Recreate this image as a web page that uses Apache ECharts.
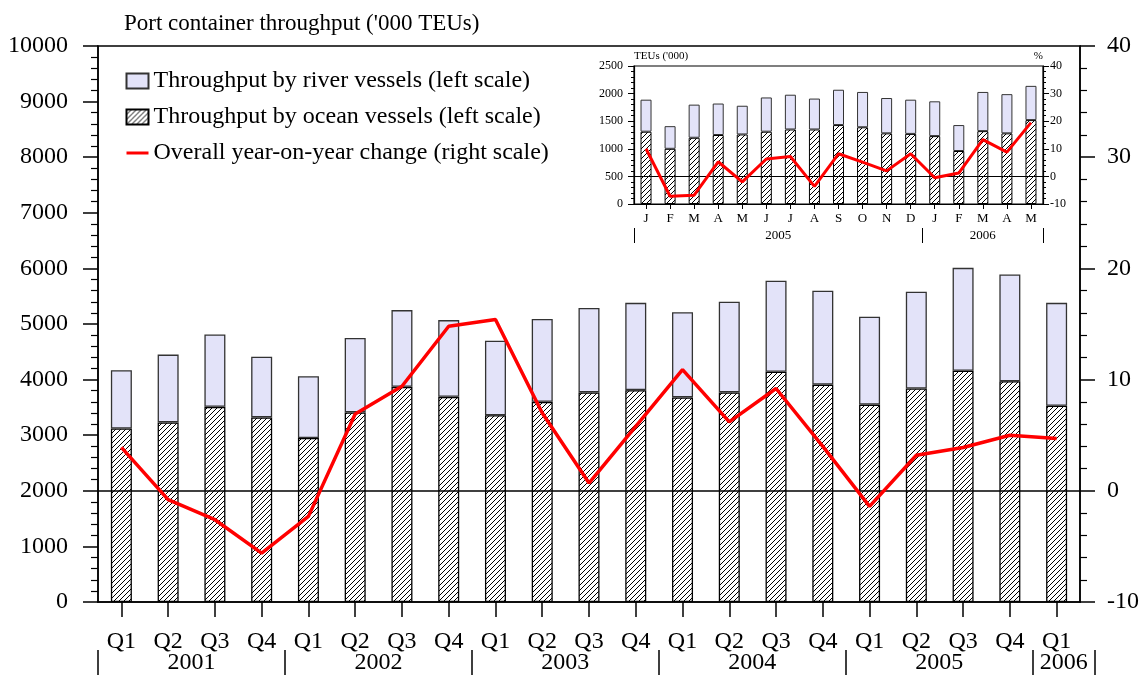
<!DOCTYPE html>
<html>
<head>
<meta charset="utf-8">
<script src="https://cdn.jsdelivr.net/npm/echarts@6/dist/echarts.min.js"></script>
<style>
  html, body { margin: 0; padding: 0; background: #fff; }
  #chart { width: 1142px; height: 675px; }
</style>
</head>
<body>
<div id="chart"></div>
<script>
// quarterly data, 2001 Q1 - 2006 Q1 ('000 TEUs)
var quarters = ['Q1', 'Q2', 'Q3', 'Q4', 'Q1', 'Q2', 'Q3', 'Q4', 'Q1', 'Q2', 'Q3', 'Q4',
  'Q1', 'Q2', 'Q3', 'Q4', 'Q1', 'Q2', 'Q3', 'Q4', 'Q1'];
var oceanQ = [3120, 3230, 3510, 3320, 2950, 3410, 3870, 3690, 3360, 3600, 3770, 3810,
  3680, 3770, 4140, 3910, 3550, 3840, 4160, 3970, 3530];
var riverQ = [1050, 1220, 1300, 1090, 1110, 1340, 1380, 1380, 1340, 1490, 1520, 1570,
  1530, 1630, 1640, 1690, 1580, 1740, 1850, 1920, 1850];
var yoyQ = [3.9, -0.8, -2.6, -5.6, -2.3, 6.9, 9.4, 14.8, 15.4, 7.0, 0.7, 5.8,
  10.9, 6.2, 9.2, 4.0, -1.4, 3.2, 3.9, 5.0, 4.7];
var years = ['2001', '2002', '2003', '2004', '2005', '2006'];

// monthly data, Jan 2005 - May 2006 (inset)
var months = ['J', 'F', 'M', 'A', 'M', 'J', 'J', 'A', 'S', 'O', 'N', 'D', 'J', 'F', 'M', 'A', 'M'];
var oceanM = [1310, 1000, 1200, 1250, 1260, 1310, 1350, 1350, 1430, 1390, 1280, 1270, 1230, 960, 1320, 1280, 1520];
var riverM = [580, 410, 600, 570, 520, 620, 630, 560, 640, 640, 640, 620, 630, 470, 710, 710, 620];
var yoyM = [10.0, -7.2, -6.8, 5.3, -2.0, 6.3, 7.2, -3.6, 8.2, 5.2, 2.0, 8.2, -0.5, 1.2, 13.3, 8.8, 19.5];
var insetYears = ['2005', '2006'];

var FONT = 'Liberation Serif';
var RIVER = '#e3e3f9';
var NAME_RIVER = 'Throughput by river vessels (left scale)';
var NAME_OCEAN = 'Throughput by ocean vessels (left scale)';
var NAME_YOY = 'Overall year-on-year change (right scale)';

// hatch pattern for ocean vessels
function hatch(size) {
  var c = document.createElement('canvas');
  c.width = size; c.height = size;
  var g = c.getContext('2d');
  g.fillStyle = '#fff';
  g.fillRect(0, 0, size, size);
  g.strokeStyle = '#000';
  g.lineWidth = 1;
  g.beginPath();
  g.moveTo(0, size); g.lineTo(size, 0);
  g.moveTo(-1, 1); g.lineTo(1, -1);
  g.moveTo(size - 1, size + 1); g.lineTo(size + 1, size - 1);
  g.stroke();
  return c;
}
var hatchFill = { image: hatch(5), repeat: 'repeat' };

// year axis slots: main one in thirds of a quarter (0..64), inset in half months (0..34)
var yearSlots = [];
for (var i = 0; i <= 64; i++) yearSlots.push('s' + i);
var yearLabelAt = { 6: years[0], 18: years[1], 30: years[2], 42: years[3], 54: years[4], 62: years[5] };
var yearSepAt = { 0: 1, 12: 1, 24: 1, 36: 1, 48: 1, 60: 1, 64: 1 };
var insetSlots = [];
for (var j = 0; j <= 34; j++) insetSlots.push('m' + j);
var insetLabelAt = { 12: insetYears[0], 29: insetYears[1] };
var insetSepAt = { 0: 1, 24: 1, 34: 1 };

var black = { color: '#000', width: 1.5 };
var plain = function (v) { return String(v); };

var myChart = echarts.init(document.getElementById('chart'));
var option = {
  animation: false,
  textStyle: { fontFamily: FONT, color: '#000' },
  title: {
    text: "Port container throughput ('000 TEUs)",
    left: 119, top: 7,
    textStyle: { fontFamily: FONT, fontSize: 23, fontWeight: 'normal', color: '#000' }
  },
  legend: {
    orient: 'vertical',
    left: 120, top: 64,
    itemWidth: 22, itemHeight: 15, itemGap: 12,
    textStyle: { fontFamily: FONT, fontSize: 24, color: '#000' },
    data: [
      { name: NAME_RIVER, icon: 'rect' },
      { name: NAME_OCEAN, icon: 'rect' },
      { name: NAME_YOY, itemStyle: { opacity: 0 }, lineStyle: { width: 3, color: '#ff0000' } }
    ]
  },
  grid: [
    { left: 98, right: 62, top: 46, bottom: 73, show: true, borderColor: '#000', borderWidth: 1.5 },
    { left: 634, right: 99, top: 66, bottom: 471, show: true, borderColor: '#000', borderWidth: 1.2 },
    { left: 98, width: 997, top: 46, bottom: 25 },
    { left: 634, right: 99, top: 66, bottom: 447 }
  ],
  xAxis: [
    {
      gridIndex: 0, type: 'category', data: quarters,
      axisLine: { onZero: false, lineStyle: black },
      axisTick: { show: true, alignWithLabel: true, interval: 0, length: 15, lineStyle: black },
      axisLabel: { fontSize: 24, margin: 28, color: '#000', fontFamily: FONT, interval: 0 }
    },
    {
      gridIndex: 2, type: 'category', data: yearSlots, boundaryGap: false, position: 'bottom',
      axisLine: { show: false },
      axisTick: { show: true, length: 26, lineStyle: black, interval: function (idx) { return !!yearSepAt[idx]; } },
      axisLabel: {
        fontSize: 24, margin: 1, color: '#000', fontFamily: FONT,
        interval: function (idx) { return !!yearLabelAt[idx]; },
        formatter: function (v, idx) { return yearLabelAt[idx] || ''; }
      }
    },
    {
      gridIndex: 1, type: 'category', data: months,
      axisLine: { onZero: false, lineStyle: { color: '#000', width: 1.2 } },
      axisTick: { show: true, alignWithLabel: true, interval: 0, length: 5, lineStyle: { color: '#000', width: 1 } },
      axisLabel: { fontSize: 13, margin: 8, color: '#000', fontFamily: FONT, interval: 0 }
    },
    {
      gridIndex: 3, type: 'category', data: insetSlots, boundaryGap: false, position: 'bottom',
      axisLine: { show: false },
      axisTick: { show: true, length: 15, lineStyle: { color: '#000', width: 1 }, interval: function (idx) { return !!insetSepAt[idx]; } },
      axisLabel: {
        fontSize: 13, margin: 1, color: '#000', fontFamily: FONT,
        interval: function (idx) { return !!insetLabelAt[idx]; },
        formatter: function (v, idx) { return insetLabelAt[idx] || ''; }
      }
    }
  ],
  yAxis: [
    {
      gridIndex: 0, type: 'value', min: 0, max: 10000, interval: 1000, position: 'left',
      axisLine: { show: true, lineStyle: black },
      axisTick: { show: true, length: 15, lineStyle: black },
      minorTick: { show: true, splitNumber: 5, length: 7, lineStyle: { color: '#000', width: 1.2 } },
      splitLine: { show: false },
      axisLabel: { fontSize: 24, margin: 30, color: '#000', fontFamily: FONT, formatter: plain }
    },
    {
      gridIndex: 0, type: 'value', min: -10, max: 40, interval: 10, position: 'right',
      axisLine: { show: true, lineStyle: black },
      axisTick: { show: true, length: 15, lineStyle: black },
      minorTick: { show: true, splitNumber: 5, length: 7, lineStyle: { color: '#000', width: 1.2 } },
      splitLine: { show: false },
      axisLabel: { fontSize: 24, margin: 27, color: '#000', fontFamily: FONT, formatter: plain }
    },
    { gridIndex: 2, type: 'value', show: false },
    {
      gridIndex: 1, type: 'value', min: 0, max: 2500, interval: 500, position: 'left',
      name: "TEUs ('000)", nameLocation: 'end', nameGap: 4,
      nameTextStyle: { fontSize: 11, align: 'left', color: '#000', fontFamily: FONT },
      axisLine: { show: true, lineStyle: { color: '#000', width: 1.2 } },
      axisTick: { show: true, length: 6, lineStyle: { color: '#000', width: 1 } },
      minorTick: { show: true, splitNumber: 5, length: 3, lineStyle: { color: '#000', width: 1 } },
      splitLine: { show: false },
      axisLabel: { fontSize: 12, margin: 11, color: '#000', fontFamily: FONT, formatter: plain }
    },
    {
      gridIndex: 1, type: 'value', min: -10, max: 40, interval: 10, position: 'right',
      name: '%', nameLocation: 'end', nameGap: 4,
      nameTextStyle: { fontSize: 11, align: 'right', color: '#000', fontFamily: FONT },
      axisLine: { show: true, lineStyle: { color: '#000', width: 1.2 } },
      axisTick: { show: true, length: 6, lineStyle: { color: '#000', width: 1 } },
      minorTick: { show: true, splitNumber: 5, length: 3, lineStyle: { color: '#000', width: 1 } },
      splitLine: { show: false },
      axisLabel: { fontSize: 12, margin: 7, color: '#000', fontFamily: FONT, formatter: plain }
    },
    { gridIndex: 3, type: 'value', show: false }
  ],
  series: [
    {
      name: NAME_OCEAN, type: 'bar', stack: 'q',
      xAxisIndex: 0, yAxisIndex: 0, barWidth: 21, data: oceanQ,
      itemStyle: { color: hatchFill, borderColor: '#000', borderWidth: 1.3 }
    },
    {
      name: NAME_RIVER, type: 'bar', stack: 'q',
      xAxisIndex: 0, yAxisIndex: 0, barWidth: 21, data: riverQ,
      itemStyle: { color: RIVER, borderColor: '#333', borderWidth: 1.3 }
    },
    {
      name: NAME_YOY, type: 'line',
      xAxisIndex: 0, yAxisIndex: 1, data: yoyQ, symbol: 'none', z: 5,
      lineStyle: { color: '#ff0000', width: 3.5 }, itemStyle: { color: '#ff0000' },
      markLine: {
        silent: true, symbol: 'none', label: { show: false },
        lineStyle: { color: '#000', width: 1.5, type: 'solid' },
        data: [{ yAxis: 0 }]
      }
    },
    {
      name: 'ocean monthly', type: 'bar', stack: 'm',
      xAxisIndex: 2, yAxisIndex: 3, barWidth: 11, data: oceanM,
      itemStyle: { color: hatchFill, borderColor: '#000', borderWidth: 1 }
    },
    {
      name: 'river monthly', type: 'bar', stack: 'm',
      xAxisIndex: 2, yAxisIndex: 3, barWidth: 11, data: riverM,
      itemStyle: { color: RIVER, borderColor: '#333', borderWidth: 1 }
    },
    {
      name: 'yoy monthly', type: 'line',
      xAxisIndex: 2, yAxisIndex: 4, data: yoyM, symbol: 'none', z: 5,
      lineStyle: { color: '#ff0000', width: 3 }, itemStyle: { color: '#ff0000' },
      markLine: {
        silent: true, symbol: 'none', label: { show: false },
        lineStyle: { color: '#000', width: 1.2, type: 'solid' },
        data: [{ yAxis: 0 }]
      }
    }
  ]
};
option && myChart.setOption(option);
</script>
</body>
</html>
